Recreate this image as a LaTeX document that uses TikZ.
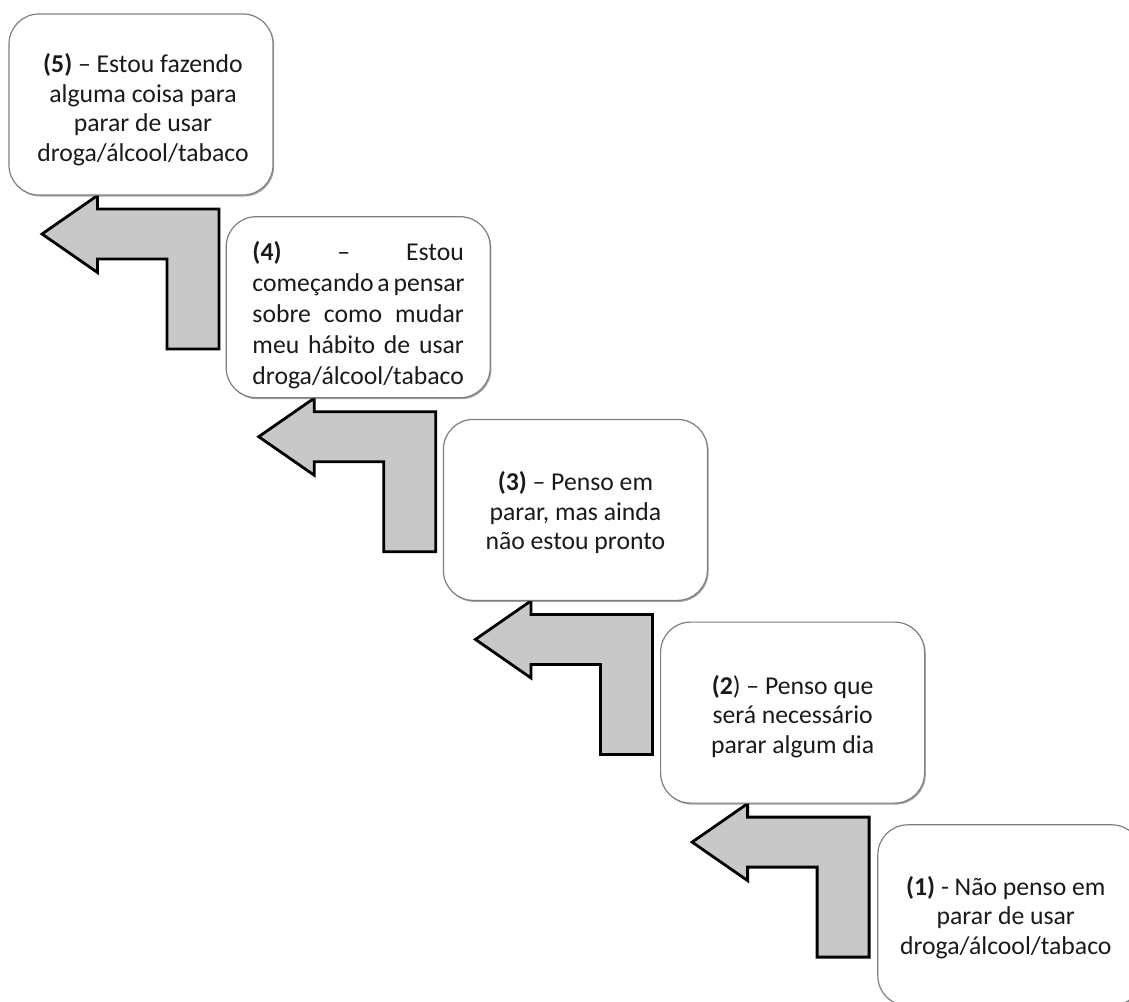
\documentclass[tikz,border=0pt]{standalone}
\usepackage{fontspec}
\setmainfont{Carlito}
\usetikzlibrary{shadows}
\definecolor{boxgray}{HTML}{7F7F7F}
\definecolor{arrowgray}{HTML}{C8C8C8}
\definecolor{textcol}{HTML}{1A1A1A}
\newlength\jwidth
\newcommand\stagefont{\fontsize{25.7}{29.5}\selectfont}
\newcommand\jline[1]{\makebox[\jwidth][s]{#1}}
\begin{document}
\settowidth{\jwidth}{\stagefont droga/álcool/tabaco}%
\begin{tikzpicture}[x=1pt,y=-1pt,
  stage/.style={draw=boxgray, line width=1.2pt, fill=white, rounded corners=30pt,
    minimum width=264pt, minimum height=181pt,
    drop shadow={shadow xshift=1.2pt, shadow yshift=-1.5pt, fill=black, opacity=0.35}},
  stagetext/.style={align=center, font=\stagefont, text=textcol, inner sep=0pt},
  arrowshape/.style={draw=black, line width=2.8pt, fill=arrowgray, line join=miter},
  bentarrow/.pic={\path[arrowshape] (0,0) -- (55.5,-38.5) -- (55.5,-25) -- (177,-25)
    -- (177,115) -- (125,115) -- (125,25) -- (55.5,25) -- (55.5,38.5) -- cycle;}
]
\clip (0,0) rectangle (1129,1001);
% arrows (behind the boxes)
\foreach \i in {0,...,3}{
  \pic (arr\i) at ({42+\i*216.7},{234+\i*202.7}) {bentarrow};
}
% stage boxes
\node[stage] (s5) at (141,104.5) {};
\node[stage] (s4) at (358.2,307.2) {};
\node[stage] (s3) at (575.4,509.9) {};
\node[stage] (s2) at (792.6,712.6) {};
\node[stage] (s1) at (1009.8,915.3) {};
% stage texts
\node[stagetext] (t5) at ([xshift=2pt,yshift=-5pt]s5.center) {\textbf{(5)} – Estou fazendo\\ alguma coisa para\\ parar de usar\\ droga/álcool/tabaco};
\node[stagetext, font=\fontsize{25.7}{31}\selectfont] (t4) at ([yshift=-8pt]s4.center) {\jline{\textbf{(4)}\hfill–\hfill Estou}\\ \jline{começando a pensar}\\ \jline{sobre como mudar}\\ \jline{meu hábito de usar}\\ droga/álcool/tabaco};
\node[stagetext] (t3) at ([yshift=-3pt]s3.center) {\textbf{(3)} – Penso em\\ parar, mas ainda\\ não estou pronto};
\node[stagetext] (t2) at ([yshift=-4pt]s2.center) {\textbf{(2}) – Penso que\\ será necessário\\ parar algum dia};
\node[stagetext] (t1) at ([xshift=-4pt,yshift=-2pt]s1.center) {\textbf{(1)} - Não penso em\\ parar de usar\\ droga/álcool/tabaco};
\end{tikzpicture}
\end{document}
